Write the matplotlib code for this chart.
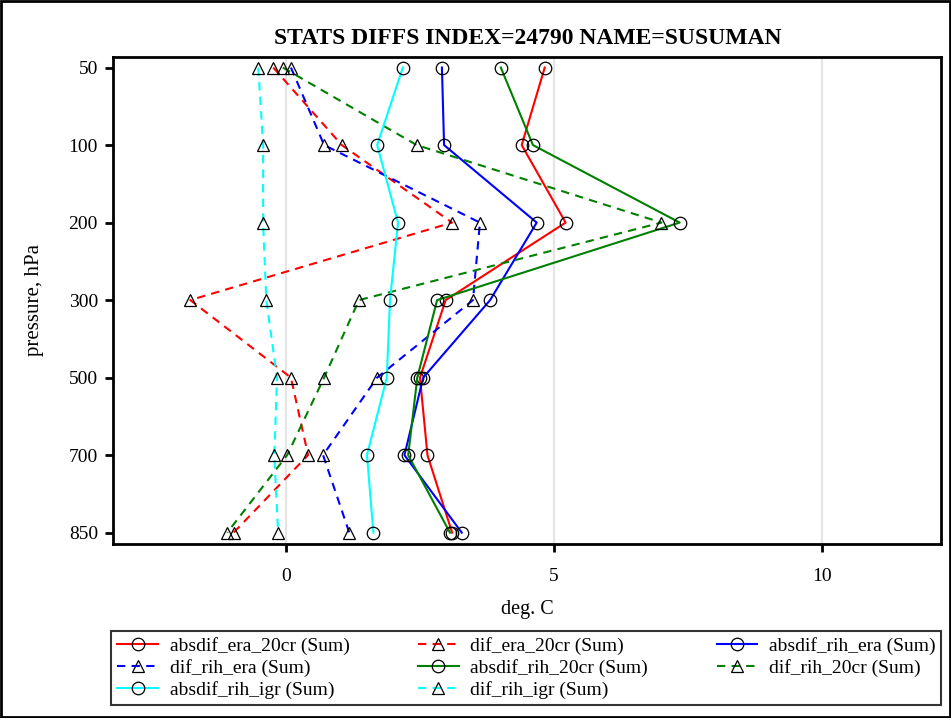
import matplotlib.pyplot as plt
from matplotlib.patches import Rectangle

# pressure levels (categorical y axis)
levels = [50, 100, 200, 300, 500, 700, 850]

# series values, deg. C
absdif_era_20cr = [4.83, 4.40, 5.22, 2.98, 2.50, 2.64, 3.10]
dif_era_20cr = [-0.24, 1.04, 3.10, -1.79, 0.09, 0.41, -0.98]
absdif_rih_era = [2.91, 2.95, 4.68, 3.81, 2.56, 2.21, 3.28]
dif_rih_era = [0.09, 0.71, 3.62, 3.49, 1.70, 0.69, 1.18]
absdif_rih_20cr = [4.01, 4.61, 7.35, 2.82, 2.45, 2.28, 3.06]
dif_rih_20cr = [-0.06, 2.44, 7.01, 1.36, 0.71, 0.02, -1.10]
absdif_rih_igr = [2.18, 1.70, 2.09, 1.94, 1.88, 1.51, 1.63]
dif_rih_igr = [-0.52, -0.43, -0.43, -0.37, -0.17, -0.22, -0.15]

series = [
    ('absdif_era_20cr (Sum)', absdif_era_20cr, 'red', '-', 'o'),
    ('dif_era_20cr (Sum)', dif_era_20cr, 'red', '--', '^'),
    ('absdif_rih_era (Sum)', absdif_rih_era, 'blue', '-', 'o'),
    ('dif_rih_era (Sum)', dif_rih_era, 'blue', '--', '^'),
    ('absdif_rih_20cr (Sum)', absdif_rih_20cr, 'green', '-', 'o'),
    ('dif_rih_20cr (Sum)', dif_rih_20cr, 'green', '--', '^'),
    ('absdif_rih_igr (Sum)', absdif_rih_igr, 'cyan', '-', 'o'),
    ('dif_rih_igr (Sum)', dif_rih_igr, 'cyan', '--', '^'),
]

plt.rcParams['font.family'] = ['Liberation Serif', 'DejaVu Serif']

fig = plt.figure(figsize=(9.51, 7.18), dpi=100)
ax = fig.add_axes([0.119, 0.242, 0.871, 0.679])

ypos = list(range(len(levels)))
handles = []
for label, vals, color, ls, mk in series:
    dash = (0, (4, 3)) if ls == '--' else '-'
    h, = ax.plot(vals, ypos, color=color, linestyle=dash, linewidth=1.5,
                 marker=mk, markersize=9, markerfacecolor='none',
                 markeredgecolor='black', markeredgewidth=0.9, label=label)
    handles.append(h)

ax.set_xlim(-3.23, 12.24)
ax.set_ylim(6.15, -0.14)
ax.set_yticks(ypos)
ax.set_yticklabels([str(p) for p in levels])
ax.set_xticks([0, 5, 10])
ax.grid(axis='x', color='#e4e4e4', linewidth=1.5, zorder=0)
ax.set_axisbelow(True)

for side in ['left', 'bottom', 'top', 'right']:
    ax.spines[side].set_linewidth(2)
ax.tick_params(axis='both', labelsize=14, width=2, length=6, direction='out')
ax.tick_params(axis='x', pad=11)
ax.tick_params(axis='y', pad=5)

ax.set_title('STATS DIFFS INDEX=24790 NAME=SUSUMAN', fontsize=17,
             fontweight='bold', pad=9)
ax.set_xlabel('deg. C', fontsize=14.5, labelpad=11)
ax.set_ylabel('pressure, hPa', fontsize=15, labelpad=18)

# legend laid out row by row
order = [0, 3, 6, 1, 4, 7, 2, 5]
leg = fig.legend([handles[i] for i in order], [series[i][0] for i in order],
                 loc='lower left', bbox_to_anchor=(0.117, 0.018, 0.873, 0.111),
                 mode='expand', borderaxespad=0, ncol=3, fontsize=14,
                 frameon=True, fancybox=False, handlelength=2.1, borderpad=0.3,
                 labelspacing=0.22, columnspacing=0.6, handletextpad=0.6)
leg.get_frame().set_edgecolor('black')
leg.get_frame().set_linewidth(1.5)

# outer border
fig.patches.append(Rectangle((0.001, 0.001), 0.998, 0.998, transform=fig.transFigure,
                             fill=False, edgecolor='black', linewidth=2))

fig.savefig('out.png', dpi=100)
